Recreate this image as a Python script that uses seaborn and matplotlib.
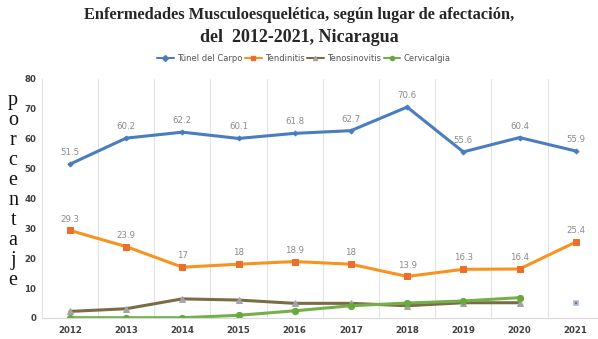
import numpy as np
import pandas as pd
import matplotlib
matplotlib.use("Agg")
import matplotlib.pyplot as plt
import seaborn as sns

years = ["2012", "2013", "2014", "2015", "2016", "2017", "2018", "2019", "2020", "2021"]
tunel_carpo = [51.5, 60.2, 62.2, 60.1, 61.8, 62.7, 70.6, 55.6, 60.4, 55.9]
tendinitis = [29.3, 23.9, 17, 18, 18.9, 18, 13.9, 16.3, 16.4, 25.4]
tenosinovitis = [2.2, 3.1, 6.4, 6.0, 4.9, 4.9, 4.1, 5.1, 5.1, np.nan]
cervicalgia = [0.1, 0.1, 0.1, 0.9, 2.4, 4.1, 5.0, 5.7, 6.8, np.nan]
marker_2021 = 5.0

series_names = ["Túnel del Carpo", "Tendinitis", "Tenosinovitis", "Cervicalgia"]
series_values = [tunel_carpo, tendinitis, tenosinovitis, cervicalgia]

df = pd.DataFrame({"year": years})
for name, vals in zip(series_names, series_values):
    df[name] = vals
long = df.melt(id_vars="year", var_name="serie", value_name="valor")
long["x"] = long["year"].map({y: i for i, y in enumerate(years)})

sns.set_theme(style="white")
plt.rcParams["font.family"] = ["DejaVu Sans"]

fig = plt.figure(figsize=(5.98, 3.39), dpi=100)
ax = fig.add_axes([0.070, 0.062, 0.935, 0.705])

styles = {
    "Túnel del Carpo": dict(line="#4a7dbf", mk="D", mfc="#4a7dbf", mec="#4a7dbf", ms=2.5, lw=2.2),
    "Tendinitis": dict(line="#f7931e", mk="s", mfc="#ed6d2d", mec="#ed6d2d", ms=4.5, lw=2.2),
    "Tenosinovitis": dict(line="#7a6c45", mk="^", mfc="#a5a5a5", mec="#a5a5a5", ms=4.5, lw=2.2),
    "Cervicalgia": dict(line="#74b04a", mk="o", mfc="#6aa83e", mec="#6aa83e", ms=4.5, lw=2.2),
}

for name in series_names:
    st = styles[name]
    sub = long[long["serie"] == name]
    sns.lineplot(data=sub, x="x", y="valor", ax=ax, color=st["line"], lw=st["lw"],
                 marker=st["mk"], markersize=st["ms"], markerfacecolor=st["mfc"],
                 markeredgecolor=st["mec"], label=name, legend=False)

# isolated 2021 point below the lines
ax.plot([9], [marker_2021], marker="s", ms=3, mfc="#d9541e", mec="#9fc3ef", mew=1.2, ls="none")

# value labels for the two main series
for vals in (tunel_carpo, tendinitis):
    for i, v in enumerate(vals):
        txt = f"{v:g}"
        ax.annotate(txt, (i, v), xytext=(0, 5), textcoords="offset points",
                    ha="center", va="bottom", fontsize=6.2, color="#8a8a8a")

ax.set_xlim(-0.5, 9.45)
ax.set_ylim(0, 80)
ax.set_xticks(range(len(years)))
ax.set_xticklabels(years, fontsize=6.2, fontweight="bold", color="#404040")
ax.set_yticks(range(0, 81, 10))
ax.set_yticklabels([str(v) for v in range(0, 81, 10)], fontsize=6.2, fontweight="bold", color="#404040")
ax.tick_params(axis="x", length=0, pad=6)
ax.tick_params(axis="y", length=0, pad=4)
ax.set_xlabel("")
ax.set_ylabel("")

# category boundary gridlines
for b in np.arange(0.5, 9.5, 1.0):
    ax.axvline(b, color="#e3e3e3", lw=0.8, zorder=0)
for side in ("top", "right"):
    ax.spines[side].set_visible(False)
ax.spines["left"].set_color("#e3e3e3")
ax.spines["bottom"].set_color("#d9d9d9")
ax.spines["left"].set_linewidth(0.8)
ax.spines["bottom"].set_linewidth(0.8)

# stacked vertical axis label
word = "porcentaje"
for k, ch in enumerate(word):
    fig.text(0.022, 0.705 - k * 0.059, ch, family="Liberation Serif", fontsize=14.5,
             ha="center", va="center", color="#111111")

fig.text(0.5, 0.955, "Enfermedades Musculoesquelética, según lugar de afectación,",
         family="Liberation Serif", fontsize=11.8, fontweight="bold", ha="center", va="center")
fig.text(0.5, 0.888, "del  2012-2021, Nicaragua",
         family="Liberation Serif", fontsize=13, fontweight="bold", ha="center", va="center")

handles = [plt.Line2D([], [], color=styles[n]["line"], lw=1.5, marker=styles[n]["mk"],
                      ms=3, mfc=styles[n]["mfc"], mec=styles[n]["mec"]) for n in series_names]
fig.legend(handles, series_names, loc="center", bbox_to_anchor=(0.508, 0.828), ncol=4,
           frameon=False, fontsize=6, handlelength=2.0, handletextpad=0.4,
           columnspacing=0.3, labelcolor="#555555")

fig.savefig("out.png", dpi=100)
